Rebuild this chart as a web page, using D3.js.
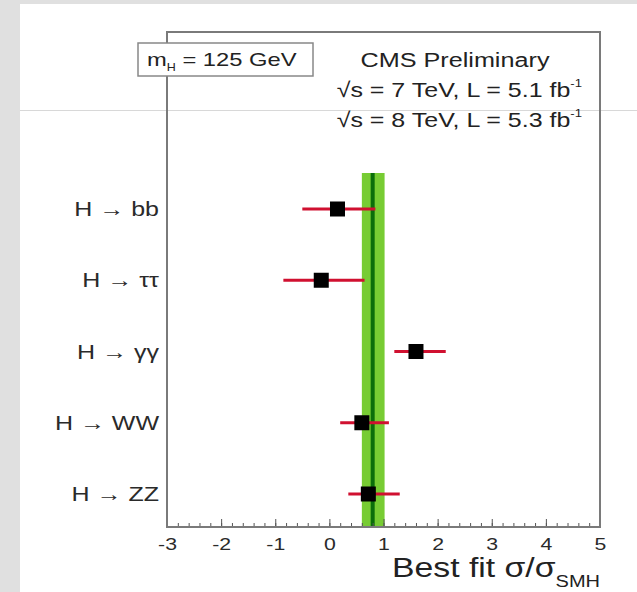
<!DOCTYPE html>
<html>
<head>
<meta charset="utf-8">
<script src="https://cdn.jsdelivr.net/npm/d3@7"></script>
<style>
  body { margin: 0; background: #e0e0e0; }
  svg { display: block; font-family: "Liberation Sans", Arial, sans-serif; }
</style>
</head>
<body>
<script>
// channels, top to bottom
const channels = ["H \u2192 bb", "H \u2192 \u03C4\u03C4", "H \u2192 \u03B3\u03B3", "H \u2192 WW", "H \u2192 ZZ"];
const bestFit = [0.15, -0.15, 1.6, 0.6, 0.72];
const errLow = [-0.5, -0.85, 1.2, 0.2, 0.35];
const errHigh = [0.85, 0.65, 2.15, 1.1, 1.3];

// combined result
const combined = 0.8;
const combinedLow = 0.6;
const combinedHigh = 1.02;

const xTicks = [-3, -2, -1, 0, 1, 2, 3, 4, 5];

const width = 637, height = 592;
const sx = 1.25; // the picture's text is a bit wide

const svg = d3.select("body").append("svg")
  .attr("width", width)
  .attr("height", height);

// white panel over the grey page
svg.append("rect").attr("x", 20).attr("y", 4).attr("width", width - 20).attr("height", height - 4).attr("fill", "#fff");
svg.append("line").attr("x1", 20).attr("x2", width).attr("y1", 110.5).attr("y2", 110.5)
  .attr("stroke", "#d8d8d8").attr("stroke-width", 1);

const frame = { left: 167, right: 600, top: 32, bottom: 527 };

const x = d3.scaleLinear().domain([-3, 5]).range([frame.left, frame.right]);
const y = d3.scalePoint().domain(channels).range([209, 494]);

function wideText(px, py, size, stretch, anchor) {
  return svg.append("g")
    .attr("transform", `translate(${px},${py}) scale(${stretch},1)`)
    .append("text")
    .attr("text-anchor", anchor)
    .attr("font-size", size)
    .attr("fill", "#222");
}

// green band + central line
svg.append("rect")
  .attr("x", x(combinedLow)).attr("y", 173)
  .attr("width", x(combinedHigh) - x(combinedLow)).attr("height", frame.bottom - 173)
  .attr("fill", "#77cc33");
svg.append("line")
  .attr("x1", x(combined)).attr("x2", x(combined))
  .attr("y1", 173).attr("y2", frame.bottom)
  .attr("stroke", "#0a6e0a").attr("stroke-width", 4);

// error bars
svg.append("g").selectAll("line")
  .data(channels)
  .enter().append("line")
  .attr("x1", (d, i) => x(errLow[i]))
  .attr("x2", (d, i) => x(errHigh[i]))
  .attr("y1", d => y(d)).attr("y2", d => y(d))
  .attr("stroke", "#d01030").attr("stroke-width", 3);

// markers
const sq = 15;
svg.append("g").selectAll("rect")
  .data(channels)
  .enter().append("rect")
  .attr("x", (d, i) => x(bestFit[i]) - sq / 2)
  .attr("y", d => y(d) - sq / 2)
  .attr("width", sq).attr("height", sq)
  .attr("fill", "#000");

// channel labels
svg.append("g").selectAll("g")
  .data(channels)
  .enter().append("g")
  .attr("transform", d => `translate(159,${y(d)}) scale(${sx},1)`)
  .append("text")
  .attr("dy", "0.36em")
  .attr("text-anchor", "end")
  .attr("font-size", 20)
  .attr("fill", "#2a2a2a")
  .text(d => d);

// x axis: major + minor ticks pointing inward
const axisG = svg.append("g").attr("transform", `translate(0,${frame.bottom})`);
axisG.call(d3.axisBottom(x).tickValues(xTicks).tickSize(-8).tickPadding(11).tickFormat(d3.format("d")));
axisG.select(".domain").remove();
axisG.selectAll(".tick line").attr("stroke", "#555");
axisG.selectAll(".tick text").attr("font-size", 17).attr("fill", "#2a2a2a")
  .attr("font-family", "Liberation Sans, Arial, sans-serif")
  .attr("transform", `scale(${sx},1)`)
  .text(d => d < 0 ? "-" + Math.abs(d) : d);

const minorG = svg.append("g").attr("transform", `translate(0,${frame.bottom})`);
minorG.call(d3.axisBottom(x).tickValues(d3.range(-30, 51, 2).map(v => v / 10)).tickSize(-4).tickFormat(""));
minorG.select(".domain").remove();
minorG.selectAll(".tick line").attr("stroke", "#555");

// frame
svg.append("rect")
  .attr("x", frame.left).attr("y", frame.top)
  .attr("width", frame.right - frame.left).attr("height", frame.bottom - frame.top)
  .attr("fill", "none").attr("stroke", "#7a7a7a").attr("stroke-width", 2);

// axis title
const title = wideText(frame.right, 577, 27, sx, "end");
title.append("tspan").text("Best fit \u03C3/\u03C3");
title.append("tspan").attr("dy", 10).attr("font-size", 16).text("SMH");

// mass box
svg.append("rect")
  .attr("x", 138).attr("y", 43).attr("width", 175).attr("height", 33)
  .attr("fill", "#fff").attr("stroke", "#888").attr("stroke-width", 1.5);
const mh = wideText(147, 66, 19, sx, "start");
mh.append("tspan").text("m");
mh.append("tspan").attr("dy", 5).attr("font-size", 10).text("H");
mh.append("tspan").attr("dy", -5).text(" = 125 GeV");

// CMS labels
wideText(455, 67, 21, 1.2, "middle").text("CMS Preliminary");

const lumi = [["\u221As = 7 TeV, L = 5.1 fb", 97], ["\u221As = 8 TeV, L = 5.3 fb", 127]];
lumi.forEach(([t, yy]) => {
  const el = wideText(582, yy, 21, 1.19, "end");
  el.append("tspan").text(t);
  el.append("tspan").attr("dy", -10).attr("font-size", 11).text("-1");
});
</script>
</body>
</html>
